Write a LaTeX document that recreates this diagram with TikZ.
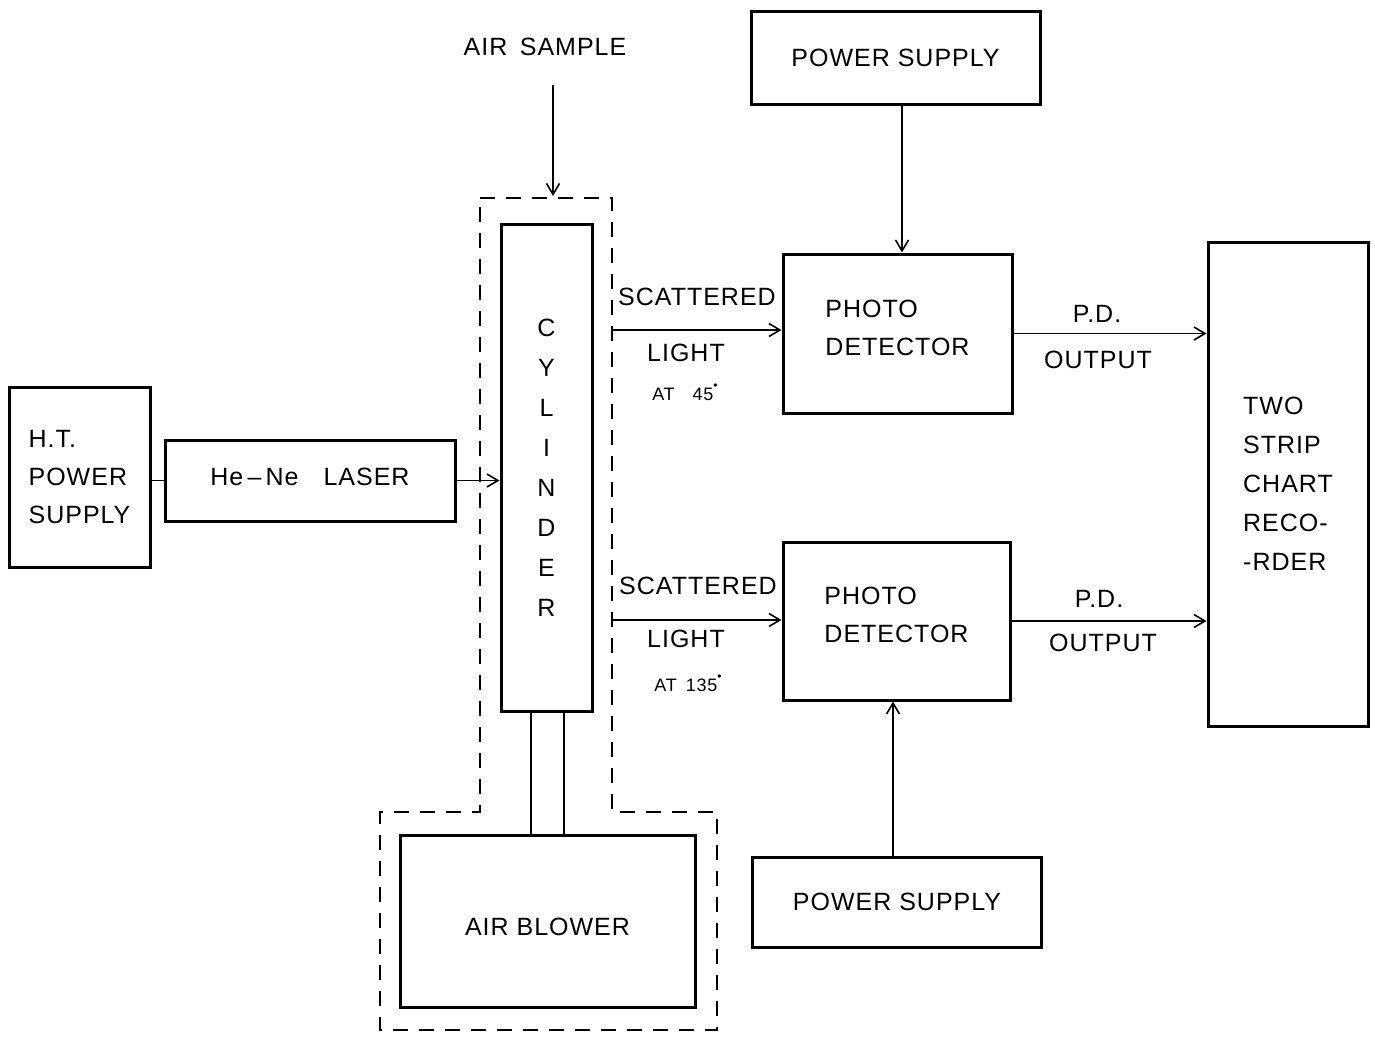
\documentclass[tikz,border=0pt]{standalone}
\usepackage{fontspec}
\setmainfont{Liberation Sans}[LetterSpace=4]
\usetikzlibrary{arrows.meta,calc}
\newcommand\lettersz{\fontsize{25}{38}\selectfont}
\newcommand\smallsz{\fontsize{18}{20}\selectfont}
\newcommand\dotdeg{\raisebox{0.6em}{\fontsize{12}{12}\selectfont •}}
\tikzset{
  blk/.style={draw, line width=3pt, inner sep=0pt, font=\lettersz, align=left},
  arr/.style={line width=1.6pt, -{Straight Barb[length=11pt,width=13pt,line width=1.6pt]}},
  wire/.style={line width=1.6pt},
  pipe/.style={line width=2.6pt},
  encl/.style={line width=2.3pt, dash pattern=on 15pt off 11pt},
  lbl/.style={inner sep=0pt, font=\lettersz},
  slbl/.style={inner sep=0pt, font=\smallsz}
}
\begin{document}
\begin{tikzpicture}[x=1pt,y=-1pt]
\useasboundingbox (0,0) rectangle (1375,1039);
\fill[white] (0,0) rectangle (1375,1039);

% blocks
\node[blk, minimum width=141pt, minimum height=180pt] (ht) at (79.5,477) {H.T.\\POWER\\SUPPLY};
\node[blk, minimum width=290pt, minimum height=81pt, text height=18pt, text depth=8pt] (laser) at (310,480.5) {He\,--\,Ne\quad LASER};
\node[blk, minimum width=91pt, minimum height=487pt, align=center, font=\fontsize{25}{40}\selectfont] (cyl) at (546.5,467.5) {C\\Y\\L\\I\\N\\D\\E\\R};
\node[blk, minimum width=295pt, minimum height=172pt, text height=28pt, text depth=0pt] (blower) at (547.5,921) {AIR BLOWER};
\node[blk, minimum width=289pt, minimum height=93pt] (ps1) at (895.5,57.5) {POWER SUPPLY};
\node[blk, minimum width=229pt, minimum height=159pt, text depth=12pt] (pd1) at (897.5,333.5) {PHOTO\\DETECTOR};
\node[blk, minimum width=227pt, minimum height=158pt, text depth=12pt] (pd2) at (896.5,621) {PHOTO\\DETECTOR};
\node[blk, minimum width=289pt, minimum height=90pt] (ps2) at (897,902) {POWER SUPPLY};
\node[blk, minimum width=160pt, minimum height=484pt, font=\fontsize{25}{39}\selectfont] (rec) at (1288,484) {TWO\\STRIP\\CHART\\RECO-\\-RDER};

% dashed enclosure
\draw[encl] (480,198) -- (612,198) -- (612,812) -- (717,812) -- (717,1030)
  -- (380,1030) -- (380,812) -- (480,812) -- cycle;

% pipe between cylinder and blower
\draw[pipe] ([xshift=-15.5pt]cyl.south) -- ([xshift=-15.5pt]cyl.south |- blower.north);
\draw[pipe] ([xshift=17.5pt]cyl.south) -- ([xshift=17.5pt]cyl.south |- blower.north);

% connections
\draw[wire] (laser.west) -- (laser.west -| ht.east);
\draw[arr] (laser.east) -- (laser.east -| cyl.west);

\node[lbl] (airtxt) at (545,47) {AIR\enspace SAMPLE};
\coordinate (asT) at (553,85);
\coordinate (asB) at (553,196);
\draw[arr] (asT) -- (asB);

\draw[arr] ([xshift=6.5pt]ps1.south) -- ([xshift=6.5pt]ps1.south |- pd1.north);
\draw[arr] ([xshift=-4pt]ps2.north) -- ([xshift=-4pt]ps2.north |- pd2.south);

\coordinate (s1) at (612,330);
\coordinate (s2) at (612,620);
\draw[arr] (s1) -- (s1 -| pd1.west);
\draw[arr] (s2) -- (s2 -| pd2.west);

\draw[arr] (pd1.east) -- (pd1.east -| rec.west);
\draw[arr] (pd2.east) -- (pd2.east -| rec.west);

% labels
\node[lbl] (sc1) at (697,297) {SCATTERED};
\node[lbl] (li1) at (686,353) {LIGHT};
\node[slbl] (at1) at (685,392) {AT\quad 45\dotdeg};
\node[lbl] (sc2) at (698,586) {SCATTERED};
\node[lbl] (li2) at (686,639) {LIGHT};
\node[slbl] (at2) at (688,683) {AT\enspace 135\dotdeg};
\node[lbl] (pdA) at (1097,314) {P.D.};
\node[lbl] (outA) at (1098,360) {OUTPUT};
\node[lbl] (pdB) at (1099,599) {P.D.};
\node[lbl] (outB) at (1103,643) {OUTPUT};
\end{tikzpicture}
\end{document}
